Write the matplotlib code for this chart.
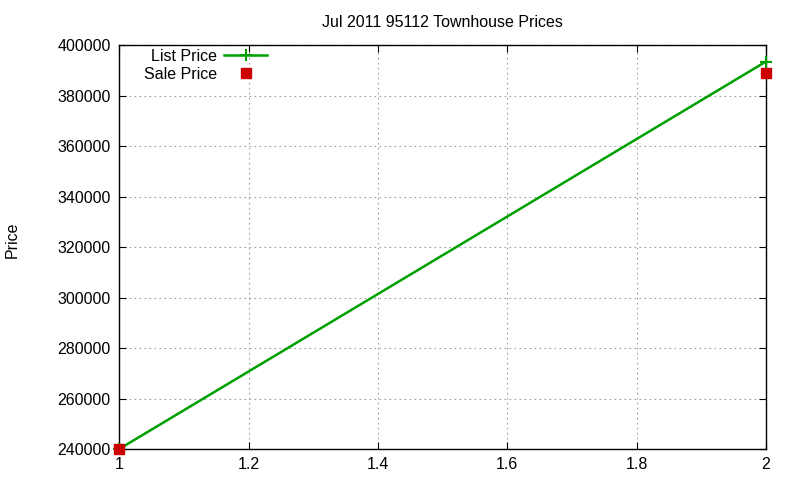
import matplotlib
matplotlib.use('Agg')
import matplotlib.pyplot as plt

plt.rcParams['font.family'] = ['Liberation Sans', 'DejaVu Sans']

# data
months = [1, 2]
list_price = [240000, 393500]
sale_price = [240000, 389000]

fig = plt.figure(figsize=(8, 4.8), dpi=100)
ax = fig.add_axes([0.149, 0.0646, 0.8085, 0.8414])

ax.plot(months, list_price, color='#00a000', lw=1.8, marker='+', ms=9, mew=1.5,
        label='List Price', clip_on=False, zorder=3)
ax.plot(months, sale_price, color='#cc0000', ls='none', marker='s', ms=6.5,
        label='Sale Price', clip_on=False, zorder=4)

ax.set_xlim(1, 2)
ax.set_ylim(240000, 400000)
ax.set_xticks([1, 1.2, 1.4, 1.6, 1.8, 2])
ax.set_xticklabels(['1', '1.2', '1.4', '1.6', '1.8', '2'])
ax.set_yticks(range(240000, 400001, 20000))
ax.tick_params(direction='in', top=True, right=True, labelsize=11.5, length=5, pad=6)
ax.grid(True, color='#a0a0a0', ls=(0, (1.5, 3)), lw=0.8)
for s in ax.spines.values():
    s.set_linewidth(1.0)

ax.set_title('Jul 2011 95112 Townhouse Prices', fontsize=11.5, pad=13)
fig.text(12 / 800, 0.5, 'Price', rotation=90, ha='center', va='center', fontsize=11.5)

ax.legend(loc='upper right', bbox_to_anchor=(280 / 800, 0.925), bbox_transform=fig.transFigure,
          markerfirst=False, frameon=False, fontsize=11.5, handlelength=2.7,
          borderpad=0.3, labelspacing=0.2, handletextpad=0.45)

fig.savefig('out.png', dpi=100)
